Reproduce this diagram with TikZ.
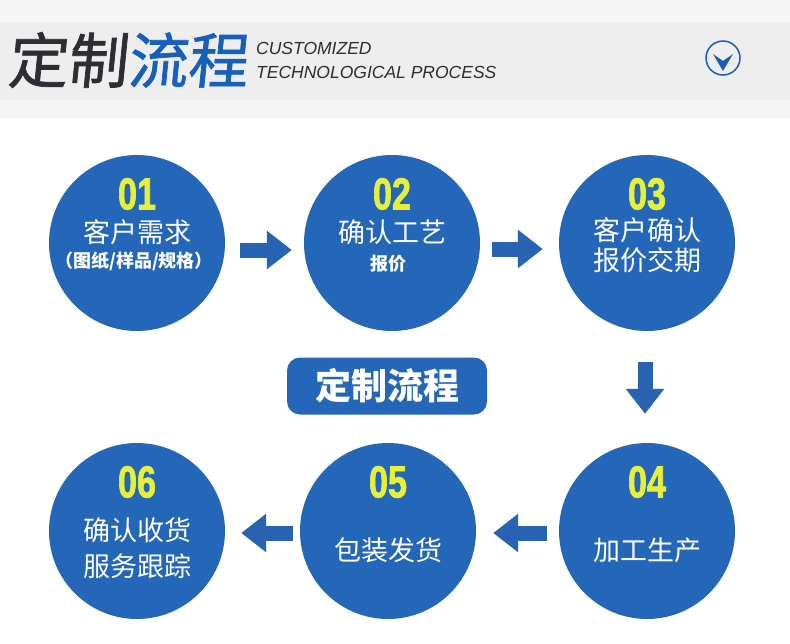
\documentclass[tikz,border=0pt]{standalone}
\usepackage{fontspec}
\setmainfont{Liberation Sans}
\newfontfamily\cjk{Noto Sans CJK SC}
\newfontfamily\cjktitle[FakeSlant=0.1,FakeBold=1.2]{Noto Sans CJK SC}
\newfontfamily\numfont[FakeStretch=0.76,FakeBold=1.5]{Liberation Sans}
\usetikzlibrary{arrows.meta,calc}
\definecolor{stepblue}{RGB}{36,103,185}
\definecolor{arrowblue}{RGB}{40,98,178}
\definecolor{numyellow}{RGB}{230,240,60}
\definecolor{titlegray}{RGB}{45,45,52}
\definecolor{titleblue}{RGB}{22,96,188}
\definecolor{bandlight}{RGB}{245,245,245}
\definecolor{banddark}{RGB}{238,238,238}
\tikzset{
  stepcircle/.style={circle,fill=stepblue,minimum size=176pt,inner sep=0pt},
  stepnum/.style={inner sep=0pt,text=numyellow,font=\numfont\bfseries\fontsize{45}{45}\selectfont},
  steptext/.style={inner sep=0pt,text=white,align=center,font=\cjk\fontsize{27}{30}\selectfont},
  stepnote/.style={inner sep=0pt,text=white,font=\cjk\bfseries\fontsize{18}{20}\selectfont},
  flowarrow/.style={line width=15pt,draw=arrowblue,-{Triangle[length=25pt,width=37pt]}},
  pill/.style={rounded corners=13pt,fill=stepblue,minimum width=200pt,minimum height=57pt,
    text=white,font=\cjk\bfseries\fontsize{36}{36}\selectfont}
}
\begin{document}
\begin{tikzpicture}
    [x=1pt,y=-1pt]
    \useasboundingbox (0,0) rectangle (790,643);
    %header band
    \fill[bandlight] (0,0) rectangle (790,118);
    \fill[banddark] (0,22) rectangle (790,100);
    \node[anchor=west,inner sep=0pt,font=\cjktitle\fontsize{60}{60}\selectfont] (title) at (7,60)
      {{\color{titlegray}定制}{\color{titleblue}流程}};
    \node[anchor=west,inner sep=0pt,text=titlegray,font=\itshape\fontsize{17.5}{18}\selectfont] (en1) at (256,48) {CUSTOMIZED};
    \node[anchor=west,inner sep=0pt,text=titlegray,font=\itshape\fontsize{17.5}{18}\selectfont] (en2) at (256,72) {TECHNOLOGICAL PROCESS};
    \node[circle,draw=titleblue,line width=1.5pt,minimum size=34pt,inner sep=0pt] (icon) at (723,58) {};
    \fill[titleblue] ($(icon)+(-10,-4)$) -- ($(icon)+(0,3)$) -- ($(icon)+(10,-4)$) -- ($(icon)+(0,13)$) -- cycle;
    %circles
    \node[stepcircle] (c1) at (137,243) {};
    \node[stepcircle] (c2) at (392,243) {};
    \node[stepcircle] (c3) at (647,243) {};
    \node[stepcircle] (c4) at (647,531) {};
    \node[stepcircle] (c5) at (388,531) {};
    \node[stepcircle] (c6) at (137,531) {};
    %numbers
    \node[stepnum] (n1) at (137,194) {01};
    \node[stepnum] (n2) at (392,194) {02};
    \node[stepnum] (n3) at (647,194) {03};
    \node[stepnum] (n4) at (647,482) {04};
    \node[stepnum] (n5) at (388,482) {05};
    \node[stepnum] (n6) at (137,482) {06};
    %texts
    \node[steptext] (t1) at (137,232) {客户需求};
    \node[stepnote] (s1) at (134,261) {（图纸/样品/规格）};
    \node[steptext] (t2) at (392,232) {确认工艺};
    \node[stepnote] (s2) at (388,264) {报价};
    \node[steptext] (t3) at (647,245) {客户确认\\报价交期};
    \node[steptext] (t4) at (647,550) {加工生产};
    \node[steptext] (t5) at (388,550) {包装发货};
    \node[steptext,font=\cjk\fontsize{27}{36}\selectfont] (t6) at (137,548) {确认收货\\服务跟踪};
    %label
    \node[pill] (lbl) at (387,386) {定制流程};
    %arrows
    \draw[flowarrow,shorten <=15pt,shorten >=12pt] ($(c1.east)+(0,7)$) -- ($(c2.west)+(0,7)$);
    \draw[flowarrow,shorten <=12pt,shorten >=16pt] ($(c2.east)+(0,6)$) -- ($(c3.west)+(0,6)$);
    \draw[flowarrow,shorten <=31pt,shorten >=29pt] ($(c3.south)+(-2,0)$) -- ($(c4.north)+(-2,0)$);
    \draw[flowarrow,shorten <=12pt,shorten >=17pt] ($(c4.west)+(0,2)$) -- ($(c5.east)+(0,2)$);
    \draw[flowarrow,shorten <=7pt,shorten >=16pt] ($(c5.west)+(0,2)$) -- ($(c6.east)+(0,2)$);
\end{tikzpicture}
\end{document}
